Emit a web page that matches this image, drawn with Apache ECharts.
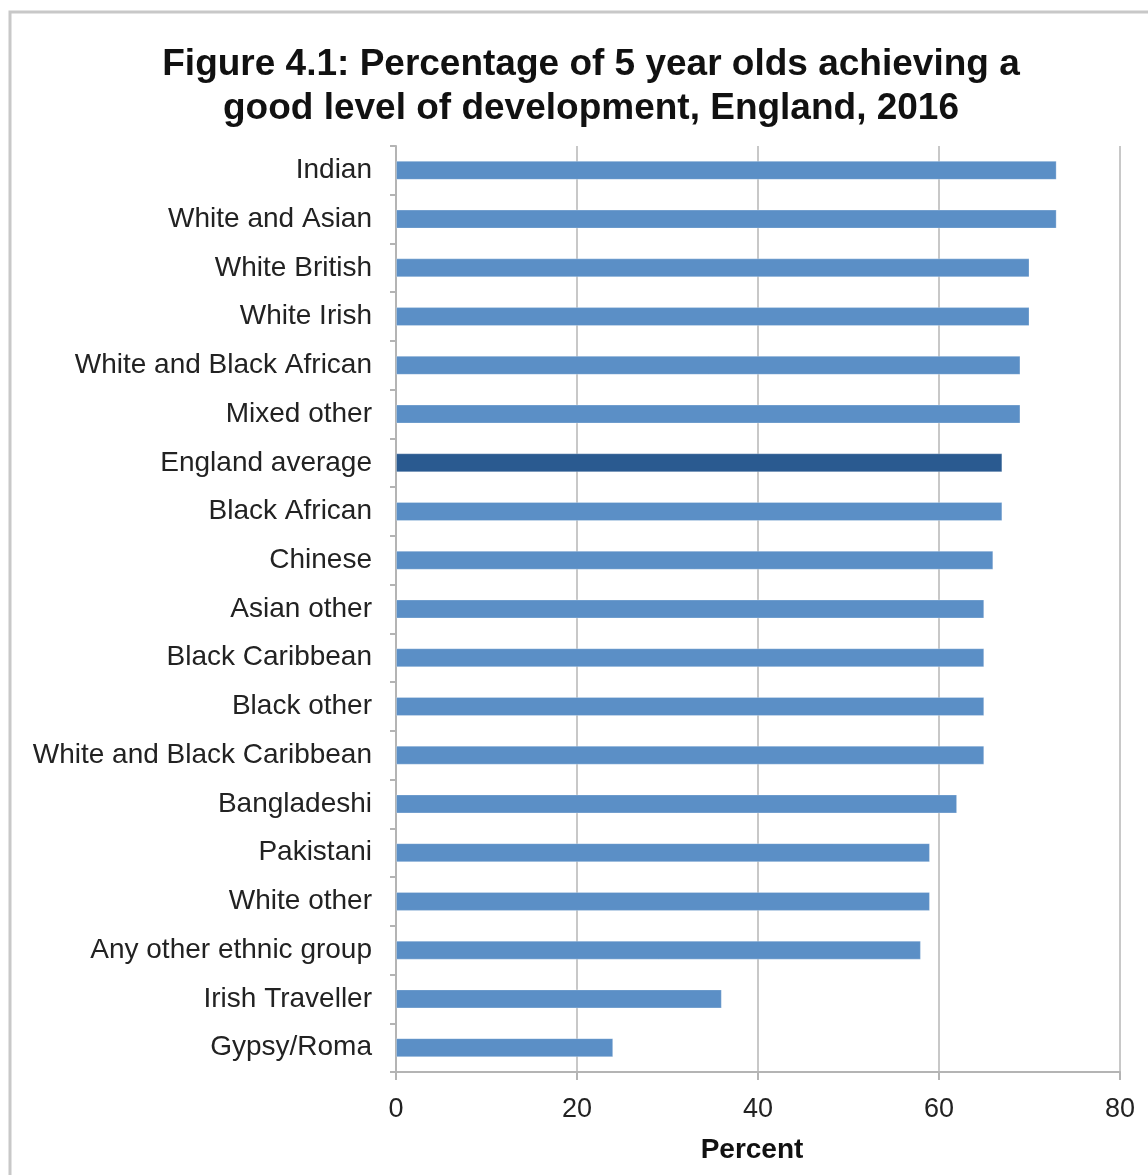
<!DOCTYPE html>
<html><head><meta charset="utf-8">
<script src="https://cdn.jsdelivr.net/npm/echarts@6/dist/echarts.min.js"></script>
<style>html,body{margin:0;padding:0;background:#fff}#c{width:1148px;height:1175px}</style>
</head><body><div id="c"></div>
<script>
const categories = ["Indian","White and Asian","White British","White Irish","White and Black African","Mixed other","England average","Black African","Chinese","Asian other","Black Caribbean","Black other","White and Black Caribbean","Bangladeshi","Pakistani","White other","Any other ethnic group","Irish Traveller","Gypsy/Roma"];
const values = [73,73,70,70,69,69,67,67,66,65,65,65,65,62,59,59,58,36,24];
const highlight = "England average";
const xTicks = [0,20,40,60,80];

const chart = echarts.init(document.getElementById('c'), null, {renderer:'canvas'});
const font = '"Liberation Sans", Arial, Helvetica, sans-serif';
chart.setOption({
  animation:false,
  backgroundColor:'#fff',
  title:{
    text:'Figure 4.1: Percentage of 5 year olds achieving a\ngood level of development, England, 2016',
    left:586, top:38, textAlign:'center',
    textStyle:{fontFamily:font, fontSize:37, fontWeight:'bold', color:'#111', lineHeight:44}
  },
  graphic:[{type:'rect', shape:{x:10,y:12,width:1300,height:1300}, style:{fill:null, stroke:'#c8c8c8', lineWidth:3}, silent:true, z:-1}],
  grid:{left:396, right:28, top:146, bottom:103, containLabel:false},
  xAxis:{
    type:'value', min:xTicks[0], max:xTicks[xTicks.length-1], interval:20,
    name:'Percent', nameLocation:'middle', nameGap:64,
    nameTextStyle:{fontFamily:font, fontSize:28, fontWeight:'bold', color:'#111', padding:[0,12,0,0]},
    axisLine:{show:true, lineStyle:{color:'#b4b4b4', width:2}},
    axisTick:{show:true, length:8, lineStyle:{color:'#b4b4b4', width:2}},
    axisLabel:{fontFamily:font, fontSize:27, color:'#222', margin:24},
    splitLine:{show:true, lineStyle:{color:'#c8c8c8', width:2}}
  },
  yAxis:{
    type:'category', data:categories, inverse:true,
    axisLine:{show:true, lineStyle:{color:'#b4b4b4', width:2}},
    axisTick:{show:true, length:6, lineStyle:{color:'#b4b4b4', width:2}},
    axisLabel:{fontFamily:font, fontSize:28, color:'#222', margin:24}
  },
  series:[{
    type:'bar', barWidth:19,
    data: values.map((v,i)=>({value:v, itemStyle:{color: categories[i]===highlight ? '#2a5a90' : '#5b8fc6'}})),
    itemStyle:{borderColor:'rgba(255,255,255,0.25)', borderWidth:1}
  }]
});
</script></body></html>
